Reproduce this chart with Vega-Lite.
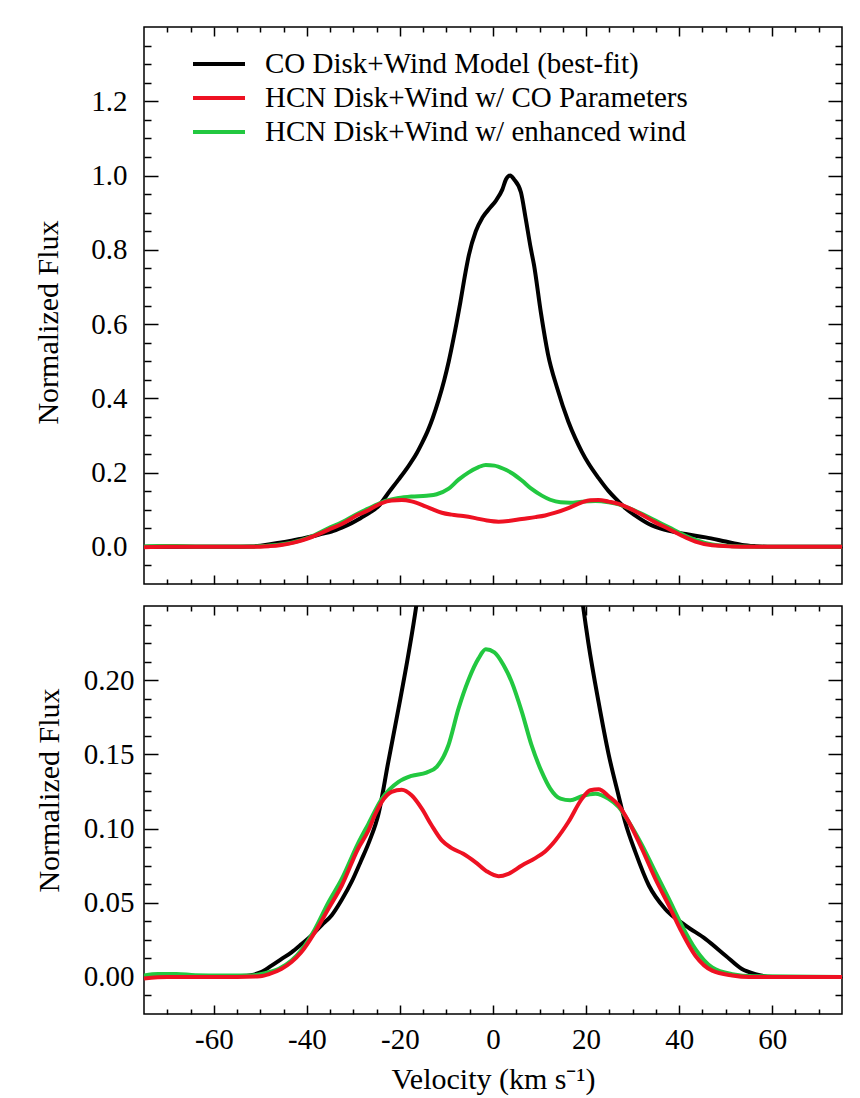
{
  "$schema": "https://vega.github.io/schema/vega-lite/v6.json",
  "background": "white",
  "padding": {"left": 33, "top": 25, "right": 15, "bottom": 3},
  "config": {
    "font": "'Liberation Serif', 'Times New Roman', Times, serif",
    "view": {"stroke": "black", "strokeWidth": 1.5},
    "axis": {"domain": false, "grid": false, "tickColor": "black", "tickWidth": 1.5, "labelColor": "black", "labelFont": "'Liberation Serif', 'Times New Roman', Times, serif", "labelFontSize": 29, "titleFont": "'Liberation Serif', 'Times New Roman', Times, serif", "titleFontSize": 30, "titleFontWeight": "normal", "titleColor": "black"},
    "legend": {"labelFont": "'Liberation Serif', 'Times New Roman', Times, serif"}
  },
  "datasets": {
    "flux": [
      {"v": -75, "f": 0, "s": "CO Disk+Wind Model (best-fit)"},
      {"v": -65, "f": 0, "s": "CO Disk+Wind Model (best-fit)"},
      {"v": -58, "f": 0, "s": "CO Disk+Wind Model (best-fit)"},
      {"v": -55, "f": 0.0005, "s": "CO Disk+Wind Model (best-fit)"},
      {"v": -52, "f": 0.0012, "s": "CO Disk+Wind Model (best-fit)"},
      {"v": -50, "f": 0.003, "s": "CO Disk+Wind Model (best-fit)"},
      {"v": -47.6, "f": 0.0076, "s": "CO Disk+Wind Model (best-fit)"},
      {"v": -45.5, "f": 0.012, "s": "CO Disk+Wind Model (best-fit)"},
      {"v": -43.3, "f": 0.0166, "s": "CO Disk+Wind Model (best-fit)"},
      {"v": -41.2, "f": 0.022, "s": "CO Disk+Wind Model (best-fit)"},
      {"v": -39, "f": 0.028, "s": "CO Disk+Wind Model (best-fit)"},
      {"v": -36.8, "f": 0.035, "s": "CO Disk+Wind Model (best-fit)"},
      {"v": -34.7, "f": 0.0414, "s": "CO Disk+Wind Model (best-fit)"},
      {"v": -32.5, "f": 0.052, "s": "CO Disk+Wind Model (best-fit)"},
      {"v": -30.4, "f": 0.064, "s": "CO Disk+Wind Model (best-fit)"},
      {"v": -28.4, "f": 0.078, "s": "CO Disk+Wind Model (best-fit)"},
      {"v": -26.5, "f": 0.092, "s": "CO Disk+Wind Model (best-fit)"},
      {"v": -24.6, "f": 0.11, "s": "CO Disk+Wind Model (best-fit)"},
      {"v": -22.5, "f": 0.145, "s": "CO Disk+Wind Model (best-fit)"},
      {"v": -20.3, "f": 0.181, "s": "CO Disk+Wind Model (best-fit)"},
      {"v": -18.2, "f": 0.217, "s": "CO Disk+Wind Model (best-fit)"},
      {"v": -16.4, "f": 0.252, "s": "CO Disk+Wind Model (best-fit)"},
      {"v": -15.4, "f": 0.276, "s": "CO Disk+Wind Model (best-fit)"},
      {"v": -14, "f": 0.313, "s": "CO Disk+Wind Model (best-fit)"},
      {"v": -12.95, "f": 0.347, "s": "CO Disk+Wind Model (best-fit)"},
      {"v": -11.7, "f": 0.395, "s": "CO Disk+Wind Model (best-fit)"},
      {"v": -10.5, "f": 0.448, "s": "CO Disk+Wind Model (best-fit)"},
      {"v": -9.5, "f": 0.5, "s": "CO Disk+Wind Model (best-fit)"},
      {"v": -8.5, "f": 0.56, "s": "CO Disk+Wind Model (best-fit)"},
      {"v": -7, "f": 0.66, "s": "CO Disk+Wind Model (best-fit)"},
      {"v": -5.9, "f": 0.74, "s": "CO Disk+Wind Model (best-fit)"},
      {"v": -5.2, "f": 0.785, "s": "CO Disk+Wind Model (best-fit)"},
      {"v": -3.7, "f": 0.85, "s": "CO Disk+Wind Model (best-fit)"},
      {"v": -2.3, "f": 0.886, "s": "CO Disk+Wind Model (best-fit)"},
      {"v": -0.5, "f": 0.915, "s": "CO Disk+Wind Model (best-fit)"},
      {"v": 0.6, "f": 0.932, "s": "CO Disk+Wind Model (best-fit)"},
      {"v": 2, "f": 0.962, "s": "CO Disk+Wind Model (best-fit)"},
      {"v": 2.8, "f": 0.99, "s": "CO Disk+Wind Model (best-fit)"},
      {"v": 3.7, "f": 1.0, "s": "CO Disk+Wind Model (best-fit)"},
      {"v": 4.5, "f": 0.99, "s": "CO Disk+Wind Model (best-fit)"},
      {"v": 6, "f": 0.955, "s": "CO Disk+Wind Model (best-fit)"},
      {"v": 7, "f": 0.886, "s": "CO Disk+Wind Model (best-fit)"},
      {"v": 8.1, "f": 0.805, "s": "CO Disk+Wind Model (best-fit)"},
      {"v": 8.8, "f": 0.76, "s": "CO Disk+Wind Model (best-fit)"},
      {"v": 10.3, "f": 0.63, "s": "CO Disk+Wind Model (best-fit)"},
      {"v": 11.8, "f": 0.52, "s": "CO Disk+Wind Model (best-fit)"},
      {"v": 13.8, "f": 0.427, "s": "CO Disk+Wind Model (best-fit)"},
      {"v": 16.2, "f": 0.337, "s": "CO Disk+Wind Model (best-fit)"},
      {"v": 17.7, "f": 0.292, "s": "CO Disk+Wind Model (best-fit)"},
      {"v": 19.1, "f": 0.256, "s": "CO Disk+Wind Model (best-fit)"},
      {"v": 20.5, "f": 0.225, "s": "CO Disk+Wind Model (best-fit)"},
      {"v": 22.7, "f": 0.185, "s": "CO Disk+Wind Model (best-fit)"},
      {"v": 24.85, "f": 0.15, "s": "CO Disk+Wind Model (best-fit)"},
      {"v": 27, "f": 0.122, "s": "CO Disk+Wind Model (best-fit)"},
      {"v": 28.4, "f": 0.1044, "s": "CO Disk+Wind Model (best-fit)"},
      {"v": 30.6, "f": 0.0841, "s": "CO Disk+Wind Model (best-fit)"},
      {"v": 33.5, "f": 0.0616, "s": "CO Disk+Wind Model (best-fit)"},
      {"v": 37, "f": 0.0458, "s": "CO Disk+Wind Model (best-fit)"},
      {"v": 41.4, "f": 0.0346, "s": "CO Disk+Wind Model (best-fit)"},
      {"v": 45.7, "f": 0.0255, "s": "CO Disk+Wind Model (best-fit)"},
      {"v": 50, "f": 0.0143, "s": "CO Disk+Wind Model (best-fit)"},
      {"v": 53.5, "f": 0.0053, "s": "CO Disk+Wind Model (best-fit)"},
      {"v": 56.4, "f": 0.0019, "s": "CO Disk+Wind Model (best-fit)"},
      {"v": 60, "f": 0, "s": "CO Disk+Wind Model (best-fit)"},
      {"v": 75, "f": 0, "s": "CO Disk+Wind Model (best-fit)"},

      {"v": -75, "f": 0.001, "s": "HCN Disk+Wind w/ enhanced wind"},
      {"v": -72, "f": 0.002, "s": "HCN Disk+Wind w/ enhanced wind"},
      {"v": -68, "f": 0.002, "s": "HCN Disk+Wind w/ enhanced wind"},
      {"v": -64, "f": 0.0012, "s": "HCN Disk+Wind w/ enhanced wind"},
      {"v": -58, "f": 0.001, "s": "HCN Disk+Wind w/ enhanced wind"},
      {"v": -52, "f": 0.001, "s": "HCN Disk+Wind w/ enhanced wind"},
      {"v": -49, "f": 0.0025, "s": "HCN Disk+Wind w/ enhanced wind"},
      {"v": -46, "f": 0.0055, "s": "HCN Disk+Wind w/ enhanced wind"},
      {"v": -43.3, "f": 0.011, "s": "HCN Disk+Wind w/ enhanced wind"},
      {"v": -41.2, "f": 0.018, "s": "HCN Disk+Wind w/ enhanced wind"},
      {"v": -38.3, "f": 0.032, "s": "HCN Disk+Wind w/ enhanced wind"},
      {"v": -35.4, "f": 0.05, "s": "HCN Disk+Wind w/ enhanced wind"},
      {"v": -32.5, "f": 0.066, "s": "HCN Disk+Wind w/ enhanced wind"},
      {"v": -29, "f": 0.09, "s": "HCN Disk+Wind w/ enhanced wind"},
      {"v": -26.8, "f": 0.103, "s": "HCN Disk+Wind w/ enhanced wind"},
      {"v": -23.9, "f": 0.12, "s": "HCN Disk+Wind w/ enhanced wind"},
      {"v": -20.3, "f": 0.1314, "s": "HCN Disk+Wind w/ enhanced wind"},
      {"v": -17.5, "f": 0.1355, "s": "HCN Disk+Wind w/ enhanced wind"},
      {"v": -14.3, "f": 0.1377, "s": "HCN Disk+Wind w/ enhanced wind"},
      {"v": -12.1, "f": 0.1416, "s": "HCN Disk+Wind w/ enhanced wind"},
      {"v": -9.6, "f": 0.156, "s": "HCN Disk+Wind w/ enhanced wind"},
      {"v": -7.4, "f": 0.181, "s": "HCN Disk+Wind w/ enhanced wind"},
      {"v": -5.3, "f": 0.2, "s": "HCN Disk+Wind w/ enhanced wind"},
      {"v": -3.1, "f": 0.2147, "s": "HCN Disk+Wind w/ enhanced wind"},
      {"v": -1.55, "f": 0.2208, "s": "HCN Disk+Wind w/ enhanced wind"},
      {"v": 0.3, "f": 0.2188, "s": "HCN Disk+Wind w/ enhanced wind"},
      {"v": 2.25, "f": 0.2103, "s": "HCN Disk+Wind w/ enhanced wind"},
      {"v": 4, "f": 0.199, "s": "HCN Disk+Wind w/ enhanced wind"},
      {"v": 6.2, "f": 0.1787, "s": "HCN Disk+Wind w/ enhanced wind"},
      {"v": 8.3, "f": 0.156, "s": "HCN Disk+Wind w/ enhanced wind"},
      {"v": 10.5, "f": 0.138, "s": "HCN Disk+Wind w/ enhanced wind"},
      {"v": 12.3, "f": 0.1269, "s": "HCN Disk+Wind w/ enhanced wind"},
      {"v": 14.5, "f": 0.1201, "s": "HCN Disk+Wind w/ enhanced wind"},
      {"v": 16.6, "f": 0.119, "s": "HCN Disk+Wind w/ enhanced wind"},
      {"v": 19.1, "f": 0.1218, "s": "HCN Disk+Wind w/ enhanced wind"},
      {"v": 22, "f": 0.1235, "s": "HCN Disk+Wind w/ enhanced wind"},
      {"v": 24.85, "f": 0.12, "s": "HCN Disk+Wind w/ enhanced wind"},
      {"v": 27, "f": 0.1145, "s": "HCN Disk+Wind w/ enhanced wind"},
      {"v": 29.2, "f": 0.1044, "s": "HCN Disk+Wind w/ enhanced wind"},
      {"v": 32, "f": 0.089, "s": "HCN Disk+Wind w/ enhanced wind"},
      {"v": 34.9, "f": 0.0706, "s": "HCN Disk+Wind w/ enhanced wind"},
      {"v": 37.8, "f": 0.0526, "s": "HCN Disk+Wind w/ enhanced wind"},
      {"v": 40.6, "f": 0.0346, "s": "HCN Disk+Wind w/ enhanced wind"},
      {"v": 43.5, "f": 0.0188, "s": "HCN Disk+Wind w/ enhanced wind"},
      {"v": 47.1, "f": 0.0064, "s": "HCN Disk+Wind w/ enhanced wind"},
      {"v": 51.4, "f": 0.0019, "s": "HCN Disk+Wind w/ enhanced wind"},
      {"v": 56, "f": 0.0005, "s": "HCN Disk+Wind w/ enhanced wind"},
      {"v": 75, "f": 0, "s": "HCN Disk+Wind w/ enhanced wind"},

      {"v": -75, "f": -0.001, "s": "HCN Disk+Wind w/ CO Parameters"},
      {"v": -70, "f": 0, "s": "HCN Disk+Wind w/ CO Parameters"},
      {"v": -55, "f": 0, "s": "HCN Disk+Wind w/ CO Parameters"},
      {"v": -50, "f": 0.0005, "s": "HCN Disk+Wind w/ CO Parameters"},
      {"v": -48, "f": 0.002, "s": "HCN Disk+Wind w/ CO Parameters"},
      {"v": -45.5, "f": 0.0053, "s": "HCN Disk+Wind w/ CO Parameters"},
      {"v": -43.3, "f": 0.01, "s": "HCN Disk+Wind w/ CO Parameters"},
      {"v": -41.2, "f": 0.0166, "s": "HCN Disk+Wind w/ CO Parameters"},
      {"v": -38.3, "f": 0.03, "s": "HCN Disk+Wind w/ CO Parameters"},
      {"v": -35.4, "f": 0.0458, "s": "HCN Disk+Wind w/ CO Parameters"},
      {"v": -32.5, "f": 0.0616, "s": "HCN Disk+Wind w/ CO Parameters"},
      {"v": -29, "f": 0.0864, "s": "HCN Disk+Wind w/ CO Parameters"},
      {"v": -26.8, "f": 0.0985, "s": "HCN Disk+Wind w/ CO Parameters"},
      {"v": -25.4, "f": 0.109, "s": "HCN Disk+Wind w/ CO Parameters"},
      {"v": -23.9, "f": 0.118, "s": "HCN Disk+Wind w/ CO Parameters"},
      {"v": -21.8, "f": 0.1247, "s": "HCN Disk+Wind w/ CO Parameters"},
      {"v": -19.6, "f": 0.1262, "s": "HCN Disk+Wind w/ CO Parameters"},
      {"v": -17.5, "f": 0.1224, "s": "HCN Disk+Wind w/ CO Parameters"},
      {"v": -15.3, "f": 0.1134, "s": "HCN Disk+Wind w/ CO Parameters"},
      {"v": -13.2, "f": 0.1022, "s": "HCN Disk+Wind w/ CO Parameters"},
      {"v": -11, "f": 0.092, "s": "HCN Disk+Wind w/ CO Parameters"},
      {"v": -8.9, "f": 0.0868, "s": "HCN Disk+Wind w/ CO Parameters"},
      {"v": -6.4, "f": 0.083, "s": "HCN Disk+Wind w/ CO Parameters"},
      {"v": -3.8, "f": 0.0774, "s": "HCN Disk+Wind w/ CO Parameters"},
      {"v": -1.3, "f": 0.0711, "s": "HCN Disk+Wind w/ CO Parameters"},
      {"v": 1.2, "f": 0.0679, "s": "HCN Disk+Wind w/ CO Parameters"},
      {"v": 3.3, "f": 0.0695, "s": "HCN Disk+Wind w/ CO Parameters"},
      {"v": 6.2, "f": 0.0751, "s": "HCN Disk+Wind w/ CO Parameters"},
      {"v": 9.1, "f": 0.0801, "s": "HCN Disk+Wind w/ CO Parameters"},
      {"v": 11.2, "f": 0.0846, "s": "HCN Disk+Wind w/ CO Parameters"},
      {"v": 13.4, "f": 0.092, "s": "HCN Disk+Wind w/ CO Parameters"},
      {"v": 16.2, "f": 0.1044, "s": "HCN Disk+Wind w/ CO Parameters"},
      {"v": 19.1, "f": 0.12, "s": "HCN Disk+Wind w/ CO Parameters"},
      {"v": 20.9, "f": 0.1258, "s": "HCN Disk+Wind w/ CO Parameters"},
      {"v": 22.7, "f": 0.1265, "s": "HCN Disk+Wind w/ CO Parameters"},
      {"v": 24.85, "f": 0.1218, "s": "HCN Disk+Wind w/ CO Parameters"},
      {"v": 27, "f": 0.1157, "s": "HCN Disk+Wind w/ CO Parameters"},
      {"v": 29.2, "f": 0.1044, "s": "HCN Disk+Wind w/ CO Parameters"},
      {"v": 32, "f": 0.0864, "s": "HCN Disk+Wind w/ CO Parameters"},
      {"v": 34.9, "f": 0.066, "s": "HCN Disk+Wind w/ CO Parameters"},
      {"v": 37.8, "f": 0.0481, "s": "HCN Disk+Wind w/ CO Parameters"},
      {"v": 40.6, "f": 0.03, "s": "HCN Disk+Wind w/ CO Parameters"},
      {"v": 43.5, "f": 0.0143, "s": "HCN Disk+Wind w/ CO Parameters"},
      {"v": 47.1, "f": 0.0042, "s": "HCN Disk+Wind w/ CO Parameters"},
      {"v": 51.4, "f": 0.001, "s": "HCN Disk+Wind w/ CO Parameters"},
      {"v": 55, "f": 0, "s": "HCN Disk+Wind w/ CO Parameters"},
      {"v": 75, "f": 0, "s": "HCN Disk+Wind w/ CO Parameters"}
    ]
  },
  "data": {"name": "flux"},
  "spacing": 18,
  "resolve": {"legend": {"color": "independent"}},
  "vconcat": [
    {
      "width": 698,
      "height": 557,
      "layer": [
        {
          "mark": {"type": "line", "strokeWidth": 4, "clip": true, "interpolate": "monotone"},
          "encoding": {
            "x": {"field": "v", "type": "quantitative", "scale": {"domain": [-75, 75], "nice": false, "zero": false},
              "axis": {"orient": "bottom", "title": null, "labels": false,
                "values": [-70,-65,-60,-55,-50,-45,-40,-35,-30,-25,-20,-15,-10,-5,0,5,10,15,20,25,30,35,40,45,50,55,60,65,70],
                "tickSize": {"condition": {"test": "datum.value % 20 === 0", "value": -9}, "value": -5}}},
            "y": {"field": "f", "type": "quantitative", "scale": {"domain": [-0.1, 1.4], "nice": false, "zero": false},
              "axis": {"orient": "left", "title": "Normalized Flux", "titleY": 295, "titlePadding": 27, "labelPadding": 31,
                "values": [-0.05,0,0.05,0.1,0.15,0.2,0.25,0.3,0.35,0.4,0.45,0.5,0.55,0.6,0.65,0.7,0.75,0.8,0.85,0.9,0.95,1,1.05,1.1,1.15,1.2,1.25,1.3,1.35],
                "labelExpr": "abs(datum.value*5 - round(datum.value*5)) < 0.001 ? format(datum.value, '.1f') : ''",
                "tickSize": {"condition": {"test": "abs(datum.value*5 - round(datum.value*5)) < 0.001", "value": -14}, "value": -7}}},
            "color": {"field": "s", "type": "nominal",
              "scale": {"domain": ["CO Disk+Wind Model (best-fit)", "HCN Disk+Wind w/ CO Parameters", "HCN Disk+Wind w/ enhanced wind"], "range": ["#000000", "#ee1122", "#22c840"]},
              "legend": {"orient": "none", "legendX": 60, "legendY": 22, "title": null, "padding": 0,
                "symbolType": "M-2,0H2", "symbolSize": 676, "symbolStrokeWidth": 4,
                "labelFontSize": 29, "labelColor": "black", "labelOffset": 31, "labelLimit": 600,
                "rowPadding": 4}}
          }
        },
        {
          "mark": {"type": "point", "opacity": 0, "clip": true},
          "encoding": {
            "x": {"field": "v", "type": "quantitative",
              "axis": {"orient": "top", "title": null, "labels": false,
                "values": [-70,-65,-60,-55,-50,-45,-40,-35,-30,-25,-20,-15,-10,-5,0,5,10,15,20,25,30,35,40,45,50,55,60,65,70],
                "tickSize": {"condition": {"test": "datum.value % 20 === 0", "value": -9}, "value": -5}}},
            "y": {"field": "f", "type": "quantitative",
              "axis": {"orient": "right", "title": null, "labels": false,
                "values": [-0.05,0,0.05,0.1,0.15,0.2,0.25,0.3,0.35,0.4,0.45,0.5,0.55,0.6,0.65,0.7,0.75,0.8,0.85,0.9,0.95,1,1.05,1.1,1.15,1.2,1.25,1.3,1.35],
                "tickSize": {"condition": {"test": "abs(datum.value*5 - round(datum.value*5)) < 0.001", "value": -14}, "value": -7}}}
          }
        }
      ],
      "resolve": {"scale": {"x": "shared", "y": "shared"}, "axis": {"x": "independent", "y": "independent"}}
    },
    {
      "width": 698,
      "height": 408,
      "layer": [
        {
          "mark": {"type": "line", "strokeWidth": 4, "clip": true, "interpolate": "monotone"},
          "encoding": {
            "x": {"field": "v", "type": "quantitative", "scale": {"domain": [-75, 75], "nice": false, "zero": false},
              "axis": {"orient": "bottom", "title": "Velocity (km s⁻¹)", "titlePadding": 10, "labelPadding": 20,
                "values": [-70,-65,-60,-55,-50,-45,-40,-35,-30,-25,-20,-15,-10,-5,0,5,10,15,20,25,30,35,40,45,50,55,60,65,70],
                "labelExpr": "datum.value % 20 === 0 ? '' + datum.value : ''",
                "tickSize": {"condition": {"test": "datum.value % 20 === 0", "value": -9}, "value": -5}}},
            "y": {"field": "f", "type": "quantitative", "scale": {"domain": [-0.025, 0.25], "nice": false, "zero": false},
              "axis": {"orient": "left", "title": "Normalized Flux", "titleY": 184, "titlePadding": 19, "labelPadding": 24,
                "values": [-0.0125,0,0.0125,0.025,0.0375,0.05,0.0625,0.075,0.0875,0.1,0.1125,0.125,0.1375,0.15,0.1625,0.175,0.1875,0.2,0.2125,0.225,0.2375],
                "labelExpr": "abs(datum.value*20 - round(datum.value*20)) < 0.001 ? format(datum.value, '.2f') : ''",
                "tickSize": {"condition": {"test": "abs(datum.value*20 - round(datum.value*20)) < 0.001", "value": -14}, "value": -7}}},
            "color": {"field": "s", "type": "nominal",
              "scale": {"domain": ["CO Disk+Wind Model (best-fit)", "HCN Disk+Wind w/ CO Parameters", "HCN Disk+Wind w/ enhanced wind"], "range": ["#000000", "#ee1122", "#22c840"]},
              "legend": null}
          }
        },
        {
          "mark": {"type": "point", "opacity": 0, "clip": true},
          "encoding": {
            "x": {"field": "v", "type": "quantitative",
              "axis": {"orient": "top", "title": null, "labels": false,
                "values": [-70,-65,-60,-55,-50,-45,-40,-35,-30,-25,-20,-15,-10,-5,0,5,10,15,20,25,30,35,40,45,50,55,60,65,70],
                "tickSize": {"condition": {"test": "datum.value % 20 === 0", "value": -9}, "value": -5}}},
            "y": {"field": "f", "type": "quantitative",
              "axis": {"orient": "right", "title": null, "labels": false,
                "values": [-0.0125,0,0.0125,0.025,0.0375,0.05,0.0625,0.075,0.0875,0.1,0.1125,0.125,0.1375,0.15,0.1625,0.175,0.1875,0.2,0.2125,0.225,0.2375],
                "tickSize": {"condition": {"test": "abs(datum.value*20 - round(datum.value*20)) < 0.001", "value": -14}, "value": -7}}}
          }
        }
      ],
      "resolve": {"scale": {"x": "shared", "y": "shared"}, "axis": {"x": "independent", "y": "independent"}}
    }
  ]
}
